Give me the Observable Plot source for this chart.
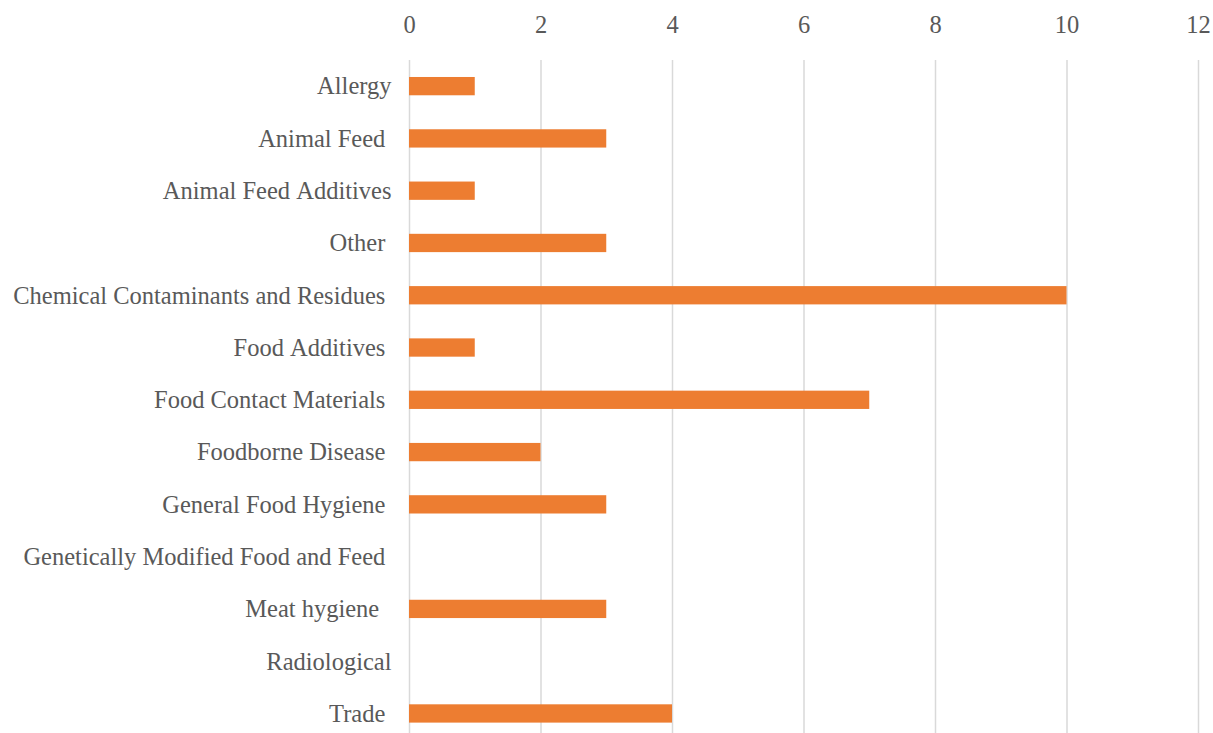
<!DOCTYPE html>
<html>
<head>
<meta charset="utf-8">
<script src="https://cdn.jsdelivr.net/npm/d3@7"></script>
<script src="https://cdn.jsdelivr.net/npm/@observablehq/plot@0.6"></script>
<style>
  html, body { margin: 0; padding: 0; background: #fff; }
  #chart svg { display: block; }
</style>
</head>
<body>
<div id="chart"></div>
<script>
const categories = [
  "Allergy",
  "Animal Feed ",
  "Animal Feed Additives",
  "Other ",
  "Chemical Contaminants and Residues ",
  "Food Additives ",
  "Food Contact Materials ",
  "Foodborne Disease ",
  "General Food Hygiene ",
  "Genetically Modified Food and Feed ",
  "Meat hygiene  ",
  "Radiological",
  "Trade "
];
const values = [1, 3, 1, 3, 10, 1, 7, 2, 3, 0, 3, 0, 4];
const xTicks = [0, 2, 4, 6, 8, 10, 12];

const data = categories.map((c, i) => ({category: c, value: values[i]}));

const chart = Plot.plot({
  width: 1213,
  height: 733,
  marginTop: 60,
  marginBottom: 0,
  marginLeft: 409,
  marginRight: 15,
  style: {fontFamily: "'Liberation Serif', 'Times New Roman', serif", fontSize: "24.5px", color: "#595959", background: "#fff"},
  x: {domain: [0, 12], range: [409, 1198]},
  y: {domain: categories, range: [60, 739.6], paddingInner: 0.65, paddingOuter: 0.325, align: 0.5, round: false},
  marks: [
    Plot.ruleX(xTicks, {x: d => d, stroke: "#d9d9d9", strokeWidth: 1.5}),
    Plot.barX(data, {x: "value", y: "category", fill: "#ED7D31"}),
    Plot.axisX({anchor: "top", ticks: xTicks, tickSize: 0, tickPadding: 28, fontSize: 24.5, label: null}),
    Plot.axisY({anchor: "left", tickSize: 0, tickPadding: 18, fontSize: 24.5, label: null,
      tickFormat: d => d.replace(/ /g, "\u00a0")})
  ]
});
document.getElementById("chart").appendChild(chart);
</script>
</body>
</html>
